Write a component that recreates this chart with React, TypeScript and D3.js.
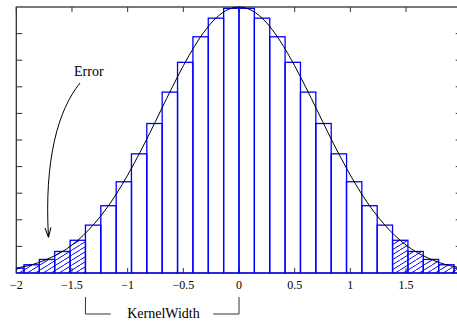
import * as d3 from "d3";

// bin centres (bin width 0.138, bins centred symmetrically about 0)
const binCenters = [
  -2.0, -1.862, -1.724, -1.586, -1.448, -1.31, -1.172, -1.034, -0.897, -0.759,
  -0.621, -0.483, -0.345, -0.207, -0.069, 0.069, 0.207, 0.345, 0.483, 0.621,
  0.759, 0.897, 1.034, 1.172, 1.31, 1.448, 1.586, 1.724, 1.862, 2.0,
];
const binValues = [
  0.018, 0.031, 0.051, 0.081, 0.123, 0.18, 0.253, 0.343, 0.448, 0.562,
  0.68, 0.792, 0.888, 0.958, 0.995, 0.995, 0.958, 0.888, 0.792, 0.68,
  0.562, 0.448, 0.343, 0.253, 0.18, 0.123, 0.081, 0.051, 0.031, 0.018,
];
const binWidth = 0.138;
const kernelWidth = 1.379;

const curveX = [
  -2, -1.9, -1.8, -1.7, -1.6, -1.5, -1.4, -1.3, -1.2, -1.1, -1, -0.9, -0.8, -0.7,
  -0.6, -0.5, -0.4, -0.3, -0.2, -0.1, 0, 0.1, 0.2, 0.3, 0.4, 0.5, 0.6, 0.7, 0.8,
  0.9, 1, 1.1, 1.2, 1.3, 1.4, 1.5, 1.6, 1.7, 1.8, 1.9, 2,
];
const curveY = [
  0.018, 0.027, 0.039, 0.056, 0.077, 0.105, 0.141, 0.185, 0.237, 0.298, 0.368,
  0.445, 0.527, 0.613, 0.698, 0.779, 0.852, 0.914, 0.961, 0.99, 1, 0.99, 0.961,
  0.914, 0.852, 0.779, 0.698, 0.613, 0.527, 0.445, 0.368, 0.298, 0.237, 0.185,
  0.141, 0.105, 0.077, 0.056, 0.039, 0.027, 0.018,
];

const xTicks = [-2, -1.5, -1, -0.5, 0, 0.5, 1, 1.5];
const xTickLabels = ["\u22122", "\u22121.5", "\u22121", "\u22120.5", "0", "0.5", "1", "1.5"];
const yTicks = [0.1, 0.2, 0.3, 0.4, 0.5, 0.6, 0.7, 0.8, 0.9];

const width = 457;
const height = 324;

export default function App() {
  const x = d3.scaleLinear([-2, 2], [16.3, 461.7]);
  const y = d3.scaleLinear([0, 1], [273, 7]);
  const [x0, x1] = x.range();
  const [yb, yt] = y.range();

  const line = d3
    .line<number>()
    .x((d, i) => x(curveX[i]))
    .y((d) => y(d))
    .curve(d3.curveNatural);

  const axisColor = "#333";
  const serif = "Liberation Serif, Times New Roman, Times, DejaVu Serif, serif";

  return (
    <svg
      width={width}
      height={height}
      style={{ position: "absolute", left: 0, top: 0, background: "#fff" }}
    >
      <defs>
        <clipPath id="plot">
          <rect x={x0} y={yt - 2} width={x1 - x0} height={yb - yt + 4} />
        </clipPath>
        <pattern id="hatch" patternUnits="userSpaceOnUse" width={8} height={5}>
          <line x1={0} y1={5} x2={8} y2={0} stroke="#0000ff" strokeWidth={1} />
        </pattern>
        <marker
          id="arrow"
          viewBox="0 0 10 10"
          refX={10}
          refY={5}
          markerWidth={10}
          markerHeight={10}
          markerUnits="userSpaceOnUse"
          orient="auto"
        >
          <path d="M0,2 L10,5 L0,8" fill="none" stroke="#000" strokeWidth={1} />
        </marker>
      </defs>

      {/* frame */}
      <rect x={x0} y={yt} width={x1 - x0} height={yb - yt} fill="none" stroke={axisColor} strokeWidth={1.3} />

      {/* ticks */}
      {xTicks.map((t) => (
        <g key={t}>
          <line x1={x(t)} x2={x(t)} y1={yb} y2={yb - 5} stroke={axisColor} />
          <line x1={x(t)} x2={x(t)} y1={yt} y2={yt + 5} stroke={axisColor} />
        </g>
      ))}
      {yTicks.map((t) => (
        <g key={t}>
          <line x1={x0} x2={x0 + 6} y1={y(t)} y2={y(t)} stroke={axisColor} />
          <line x1={x1} x2={x1 - 6} y1={y(t)} y2={y(t)} stroke={axisColor} />
        </g>
      ))}

      {/* histogram */}
      <g clipPath="url(#plot)">
        {binCenters.map((c, i) => {
          const hatched = Math.abs(c) > kernelWidth;
          return (
            <rect
              key={i}
              x={x(c - binWidth / 2)}
              y={y(binValues[i])}
              width={x(c + binWidth / 2) - x(c - binWidth / 2)}
              height={yb - y(binValues[i])}
              fill={hatched ? "url(#hatch)" : "none"}
              stroke="#0000ff"
              strokeWidth={1.3}
            />
          );
        })}
        <path d={line(curveY) ?? ""} fill="none" stroke="#000" strokeWidth={1} />
      </g>

      {/* x tick labels */}
      {xTicks.map((t, i) => (
        <text
          key={t}
          x={x(t)}
          y={289}
          textAnchor="middle"
          style={{ fontFamily: serif }}
          fontSize={12}
          fill="#000"
        >
          {xTickLabels[i]}
        </text>
      ))}

      {/* Error annotation */}
      <text x={74} y={76} style={{ fontFamily: serif }} fontSize={14} fill="#000">
        Error
      </text>
      <path
        d="M80,83 C58,110 44,160 48.5,237.5"
        fill="none"
        stroke="#000"
        strokeWidth={1}
        markerEnd="url(#arrow)"
      />

      {/* KernelWidth bracket */}
      <path
        d={`M${x(-kernelWidth)},297 V314 H110.7`}
        fill="none"
        stroke={axisColor}
        strokeWidth={1}
      />
      <path d={`M213.3,314 H${x(0)} V297`} fill="none" stroke={axisColor} strokeWidth={1} />
      <text x={163.5} y={317.5} textAnchor="middle" style={{ fontFamily: serif }} fontSize={14} fill="#000">
        KernelWidth
      </text>
    </svg>
  );
}
